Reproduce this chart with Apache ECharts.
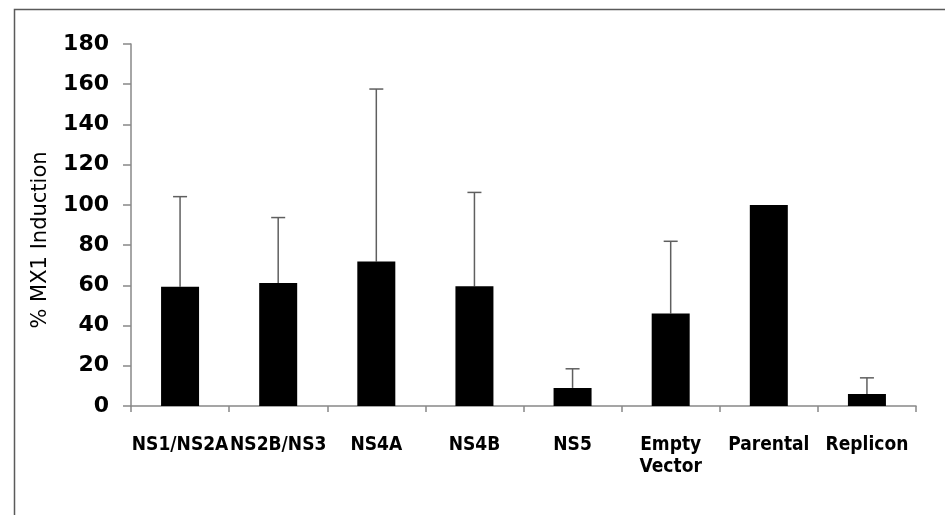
<!DOCTYPE html>
<html>
<head>
<meta charset="utf-8">
<script src="https://cdn.jsdelivr.net/npm/echarts@6/dist/echarts.min.js"></script>
<style>
html,body{margin:0;padding:0;background:#fff;}
#chart{width:945px;height:515px;}
</style>
</head>
<body>
<div id="chart"></div>
<script>
const categories = ['NS1/NS2A', 'NS2B/NS3', 'NS4A', 'NS4B', 'NS5', 'Empty\nVector', 'Parental', 'Replicon'];
const values = [59.3, 61.2, 71.8, 59.5, 9.0, 46.0, 100, 6.0];
const errors = [44.8, 32.5, 85.8, 46.7, 9.5, 35.9, 0, 8.0];
const yTicks = { min: 0, max: 180, interval: 20 };

const errData = values.map((v, i) => [i, v, v + errors[i]]);

const chart = echarts.init(document.getElementById('chart'), null, { renderer: 'canvas' });
chart.setOption({
  animation: false,
  backgroundColor: '#ffffff',
  graphic: [{
    type: 'rect',
    left: 12, top: 7,
    shape: { x: 0, y: 0, width: 1000, height: 600 },
    style: { fill: 'none', stroke: '#5a5a5a', lineWidth: 1.5 },
    silent: true,
    z: -1
  }],
  grid: { left: 131, right: 29, top: 44, bottom: 109 },
  xAxis: {
    type: 'category',
    data: categories,
    axisLine: { lineStyle: { color: '#888888', width: 1.5 } },
    axisTick: { show: true, length: 6, lineStyle: { color: '#888888', width: 1.5 } },
    axisLabel: {
      interval: 0,
      margin: 28,
      color: '#000',
      fontFamily: "'Liberation Sans Narrow', 'DejaVu Sans Condensed', 'Liberation Sans', sans-serif",
      fontWeight: 'bold',
      fontSize: 19,
      lineHeight: 22
    }
  },
  yAxis: {
    type: 'value',
    min: yTicks.min, max: yTicks.max, interval: yTicks.interval,
    name: '% MX1 Induction',
    nameLocation: 'middle',
    nameGap: 80,
    nameRotate: 90,
    nameTextStyle: { color: '#000', fontFamily: "'DejaVu Sans', sans-serif", fontSize: 21, padding: [0, 30, 0, 0] },
    axisLine: { show: true, lineStyle: { color: '#888888', width: 1.5 } },
    axisTick: { show: true, length: 8, lineStyle: { color: '#888888', width: 1.5 } },
    splitLine: { show: false },
    axisLabel: {
      margin: 22,
      color: '#000',
      fontFamily: "'DejaVu Sans', sans-serif",
      fontWeight: 'bold',
      fontSize: 22
    }
  },
  series: [{
    type: 'bar',
    data: values,
    barWidth: 38,
    itemStyle: { color: '#000000' },
    z: 2
  }, {
    type: 'custom',
    data: errData,
    z: 1,
    renderItem: function (params, api) {
      const x = api.value(0);
      const lo = api.coord([x, api.value(1)]);
      const hi = api.coord([x, api.value(2)]);
      if (api.value(2) <= api.value(1)) return null;
      const capW = 7;
      const st = { stroke: '#5f5f5f', lineWidth: 1.5 };
      return {
        type: 'group',
        children: [
          { type: 'line', shape: { x1: lo[0], y1: lo[1], x2: hi[0], y2: hi[1] }, style: st },
          { type: 'line', shape: { x1: hi[0] - capW, y1: hi[1], x2: hi[0] + capW, y2: hi[1] }, style: st }
        ]
      };
    }
  }]
});
</script>
</body>
</html>
